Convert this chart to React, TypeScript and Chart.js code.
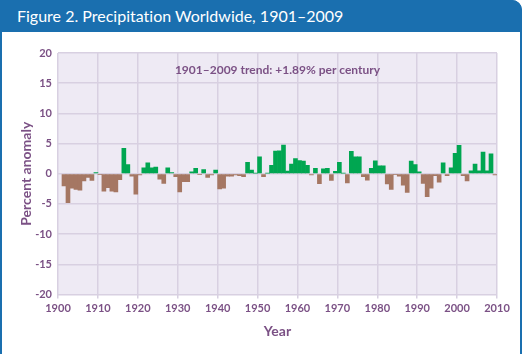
import React, { useEffect, useRef } from 'react';
import { Chart, registerables } from 'chart.js';

Chart.register(...registerables);

// Annual precipitation anomaly (%), 1901–2009
const anomalies: number[] = [
  -2.0, -4.8, -2.4, -2.6, -2.7, -1.2, -0.6, -1.1, 0.2, -0.1, // 1901-1910
  -2.9, -2.3, -2.9, -3.0, -1.0, 4.2, 1.5, -0.4, -3.4, -0.2, // 1911-1920
  1.0, 1.8, 1.0, 1.1, -0.9, -1.6, 1.0, 0.2, -0.5, -3.0, // 1921-1930
  -1.3, -1.3, 0.3, 0.9, -0.1, 0.7, -0.6, -0.2, 0.6, -2.5, // 1931-1940
  -2.4, -0.4, -0.4, -0.2, -0.3, -0.5, 1.9, 0.6, 0.1, 2.8, // 1941-1950
  -0.5, 0.1, 1.4, 3.75, 3.8, 4.75, 0.45, 1.6, 2.5, 2.2, // 1951-1960
  2.1, 1.4, -0.2, 0.9, -1.65, 0.8, 0.9, -1.1, 0.4, 1.9, // 1961-1970
  0.1, -1.5, 3.7, 2.8, 2.8, -0.5, -1.05, 0.9, 2.15, 1.3, // 1971-1980
  1.3, -1.7, -2.6, -0.1, -0.4, -1.9, -3.1, 2.1, 1.5, 0.3, // 1981-1990
  -1.6, -3.8, -2.4, -0.3, -1.4, 1.8, -0.3, 1.0, 3.4, 4.7, // 1991-2000
  -0.3, -1.2, 0.5, 1.6, 0.5, 3.6, 0.5, 3.3, -0.2, // 2001-2009
];
const firstYear = 1901;
const years: number[] = anomalies.map((_, i) => firstYear + i);

const xTickValues: number[] = [1900, 1910, 1920, 1930, 1940, 1950, 1960, 1970, 1980, 1990, 2000, 2010];
const yTickValues: number[] = [-20, -15, -10, -5, 0, 5, 10, 15, 20];

const titleText = 'Figure 2. Precipitation Worldwide, 1901\u20132009';
const trendText = '1901\u20132009 trend: +1.89% per century';
const xTitle = 'Year';
const yTitle = 'Percent anomaly';

const GREEN = '#00a651';
const BROWN = '#a57763';
const PURPLE = '#7b5185';
const GRID = '#d8d0e1';
const PLOT_BG = '#eeeaf4';
const BLUE = '#1a6faf';
const FONT = 'Lato, "Open Sans", sans-serif';

const bgPlugin = {
  id: 'plotBg',
  beforeDraw(chart: any) {
    const { ctx, chartArea } = chart;
    ctx.save();
    ctx.fillStyle = PLOT_BG;
    ctx.fillRect(chartArea.left, chartArea.top, chartArea.right - chartArea.left, chartArea.bottom - chartArea.top);
    ctx.restore();
  },
};

const trendPlugin = {
  id: 'trendText',
  afterDraw(chart: any) {
    const { ctx, chartArea, scales } = chart;
    ctx.save();
    ctx.fillStyle = PURPLE;
    ctx.font = `bold 12px ${FONT}`;
    ctx.textAlign = 'center';
    ctx.textBaseline = 'middle';
    ctx.fillText(trendText, (chartArea.left + chartArea.right) / 2, scales.y.getPixelForValue(17.2));
    ctx.restore();
  },
};

export default function App() {
  const ref = useRef<HTMLCanvasElement>(null);

  useEffect(() => {
    if (!ref.current) return;
    const chart = new Chart(ref.current, {
      type: 'bar',
      data: {
        datasets: [
          {
            data: years.map((y, i) => ({ x: y + 0.5, y: anomalies[i] })),
            backgroundColor: anomalies.map((v) => (v >= 0 ? GREEN : BROWN)),
            borderWidth: 0,
            barPercentage: 1,
            categoryPercentage: 1,
          } as any,
        ],
      },
      options: {
        responsive: false,
        animation: false,
        layout: { padding: { left: 18, top: 53, right: 31, bottom: 14 } },
        plugins: { legend: { display: false }, tooltip: { enabled: false } },
        scales: {
          x: {
            type: 'linear',
            min: 1900,
            max: 2010,
            offset: false,
            afterBuildTicks: (s: any) => {
              s.ticks = xTickValues.map((v) => ({ value: v }));
            },
            afterFit: (s: any) => {
              s.height = 45.5;
            },
            grid: { color: GRID, lineWidth: 1.5, drawTicks: true, tickLength: 4, offset: false },
            border: { display: false },
            ticks: {
              color: PURPLE,
              font: { family: FONT, size: 11, weight: 'bold' },
              padding: 3,
              maxRotation: 0,
              autoSkip: false,
              callback: (v: any) => String(v),
            },
            title: {
              display: true,
              text: xTitle,
              color: PURPLE,
              font: { family: FONT, size: 14, weight: 'bold' },
              padding: 0,
            },
          } as any,
          y: {
            min: -20,
            max: 20,
            afterBuildTicks: (s: any) => {
              s.ticks = yTickValues.map((v) => ({ value: v }));
            },
            afterFit: (s: any) => {
              s.width = 40;
            },
            grid: { color: GRID, lineWidth: 1.5, drawTicks: false },
            border: { display: false },
            ticks: {
              color: PURPLE,
              font: { family: FONT, size: 11, weight: 'bold' },
              padding: 6,
              callback: (v: any) => String(v),
            },
            title: {
              display: true,
              text: yTitle,
              color: PURPLE,
              font: { family: FONT, size: 14, weight: 'bold' },
              padding: 0,
            },
          } as any,
        },
      },
      plugins: [bgPlugin, trendPlugin],
    });
    return () => chart.destroy();
  }, []);

  return (
    <div style={{ position: 'absolute', left: 0, top: 0, width: 528, height: 354, overflow: 'hidden', background: '#ffffff' }}>
      <div
        style={{
          position: 'absolute',
          left: 0,
          top: 0,
          width: 518,
          height: 352,
          borderLeft: `2px solid ${BLUE}`,
          borderRight: `2px solid ${BLUE}`,
          borderTop: `2px solid ${BLUE}`,
          borderTopRightRadius: 10,
          background: '#ffffff',
        }}
      />
      <div
        style={{
          position: 'absolute',
          left: 0,
          top: 0,
          width: 522,
          height: 32,
          background: BLUE,
          borderTopRightRadius: 10,
          color: '#ffffff',
          fontFamily: FONT,
          fontSize: 16,
          lineHeight: '32px',
          paddingLeft: 17,
          boxSizing: 'border-box',
          whiteSpace: 'nowrap',
          fontVariantLigatures: 'none',
        }}
      >
        {titleText}
      </div>
      <canvas ref={ref} width={528} height={354} style={{ position: 'absolute', left: 0, top: 0, width: 528, height: 354 }} />
    </div>
  );
}
